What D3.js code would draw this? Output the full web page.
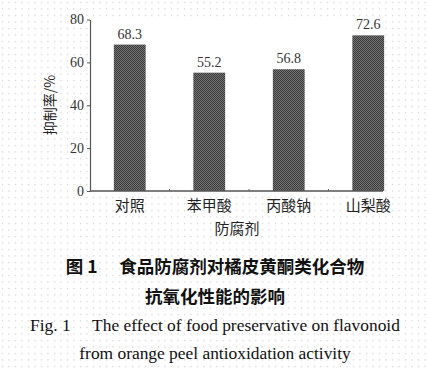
<!DOCTYPE html>
<html>
<head>
<meta charset="utf-8">
<script src="https://cdn.jsdelivr.net/npm/d3@7"></script>
<style>
  body { margin: 0; background: #fff; }
  svg { display: block; }
</style>
</head>
<body>
<script>
const categories = ["对照", "苯甲酸", "丙酸钠", "山梨酸"]
const values = [68.3, 55.2, 56.8, 72.6]
const yTicks = [0, 20, 40, 60, 80]

const width = 428, height = 370

let svg = d3.select("body").append("svg")
  .attr("width", width)
  .attr("height", height)

let defs = svg.append("defs")

// dotted paper background
let dots = defs.append("pattern")
  .attr("id", "dots")
  .attr("width", 6.5)
  .attr("height", 6.5)
  .attr("patternUnits", "userSpaceOnUse")
dots.append("rect").attr("width", 6.5).attr("height", 6.5).attr("fill", "#fff")
dots.append("rect").attr("x", 2).attr("y", 2).attr("width", 1).attr("height", 1).attr("fill", "#b8b8b8")

// checkered bar fill
let check = defs.append("pattern")
  .attr("id", "check")
  .attr("width", 2)
  .attr("height", 2)
  .attr("patternUnits", "userSpaceOnUse")
check.append("rect").attr("width", 2).attr("height", 2).attr("fill", "#747474")
check.append("rect").attr("width", 1).attr("height", 1).attr("fill", "#3a3a3a")
check.append("rect").attr("x", 1).attr("y", 1).attr("width", 1).attr("height", 1).attr("fill", "#3a3a3a")

svg.append("rect")
  .attr("width", width)
  .attr("height", height)
  .attr("fill", "url(#dots)")

let x = d3.scaleBand()
  .domain(categories)
  .range([90, 408])
  .paddingInner(0.6)
  .paddingOuter(0.3)

let y = d3.scaleLinear()
  .domain([0, 80])
  .range([191, 19.5])

const serif = "'Liberation Serif', 'DejaVu Serif', serif"
const cjk = "'Noto Sans CJK SC', sans-serif"

// plot area (white)
svg.append("rect")
  .attr("x", 90)
  .attr("y", y(80))
  .attr("width", 293)
  .attr("height", y(0) - y(80))
  .attr("fill", "#fff")

// bars
svg.selectAll("rect.bar")
  .data(values)
  .enter()
  .append("rect")
  .attr("class", "bar")
  .attr("x", (d, i) => x(categories[i]))
  .attr("y", d => y(d))
  .attr("width", x.bandwidth())
  .attr("height", d => y(0) - y(d))
  .attr("fill", "url(#check)")

// value labels
svg.selectAll("text.val")
  .data(values)
  .enter()
  .append("text")
  .attr("class", "val")
  .attr("x", (d, i) => x(categories[i]) + x.bandwidth() / 2)
  .attr("y", d => y(d) - 6)
  .attr("text-anchor", "middle")
  .attr("font-family", serif)
  .attr("font-size", "14px")
  .attr("fill", "#333")
  .text(d => d.toFixed(1))

// y axis
let yAxis = svg.append("g")
  .attr("transform", "translate(90,0)")
  .call(d3.axisLeft(y).tickValues(yTicks).tickSize(3).tickSizeOuter(0))
yAxis.select(".domain").attr("stroke", "#555").attr("stroke-width", 1.2)
yAxis.selectAll(".tick line").attr("stroke", "#555")
yAxis.selectAll(".tick text")
  .attr("font-family", serif)
  .attr("font-size", "14px")
  .attr("fill", "#333")
  .attr("x", -6)

// x axis
let xAxis = svg.append("g")
  .attr("transform", "translate(0," + y(0) + ")")
xAxis.append("line")
  .attr("x1", 90).attr("x2", 383)
  .attr("stroke", "#555").attr("stroke-width", 1.5)
let bounds = categories.slice(1).map(c => x(c) - x.step() * x.paddingInner() / 2)
xAxis.selectAll("line.tk")
  .data(bounds)
  .enter()
  .append("line")
  .attr("class", "tk")
  .attr("x1", d => d).attr("x2", d => d)
  .attr("y1", 0).attr("y2", -2)
  .attr("stroke", "#666")
xAxis.selectAll("text.cat")
  .data(categories)
  .enter()
  .append("text")
  .attr("class", "cat")
  .attr("x", d => x(d) + x.bandwidth() / 2)
  .attr("y", 20)
  .attr("text-anchor", "middle")
  .attr("font-family", cjk)
  .attr("font-size", "15px")
  .attr("fill", "#222")
  .text(d => d)

// axis titles
svg.append("text")
  .attr("x", 237)
  .attr("y", 234)
  .attr("text-anchor", "middle")
  .attr("font-family", cjk)
  .attr("font-size", "15px")
  .attr("fill", "#222")
  .text("防腐剂")

svg.append("text")
  .attr("transform", "translate(55,105) rotate(-90)")
  .attr("text-anchor", "middle")
  .attr("font-family", cjk)
  .attr("font-size", "14px")
  .attr("fill", "#222")
  .text("抑制率/%")

// caption
let caption = [
  { t: "图 1\u2003 食品防腐剂对橘皮黄酮类化合物", y: 273, f: cjk, s: 17.5, w: "bold" },
  { t: "抗氧化性能的影响", y: 303, f: cjk, s: 17.5, w: "bold" },
  { t: "Fig. 1\u2003 The effect of food preservative on flavonoid", y: 331, f: serif, s: 17.4, w: "normal" },
  { t: "from orange peel antioxidation activity", y: 359, f: serif, s: 17.4, w: "normal" }
]
svg.selectAll("text.cap")
  .data(caption)
  .enter()
  .append("text")
  .attr("class", "cap")
  .attr("x", 215)
  .attr("y", d => d.y)
  .attr("text-anchor", "middle")
  .attr("font-family", d => d.f)
  .attr("font-size", d => d.s + "px")
  .attr("font-weight", d => d.w)
  .attr("fill", "#111")
  .text(d => d.t)
</script>
</body>
</html>
